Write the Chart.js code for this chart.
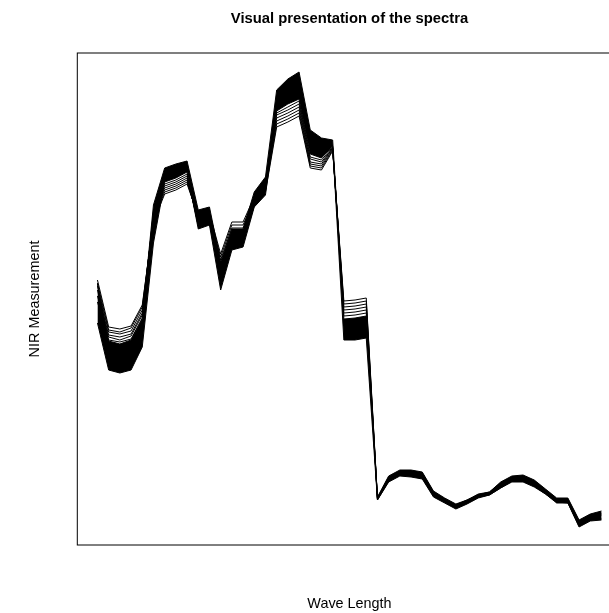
<!DOCTYPE html>
<html>
<head>
<meta charset="utf-8">
<title>Visual presentation of the spectra</title>
<script src="https://cdn.jsdelivr.net/npm/chart.js@4.4.1/dist/chart.umd.min.js"></script>
<style>
  html, body { margin: 0; padding: 0; background: #fff; overflow: hidden; }
  #wrap { width: 699px; height: 613px; }
</style>
</head>
<body>
<div id="wrap"><canvas id="spectra" width="699" height="613"></canvas></div>
<script>
// Wavelength channel index (x axis)
const wavelengthIndex = [1, 2, 3, 4, 5, 6, 7, 8, 9, 10, 11, 12, 13, 14, 15, 16, 17, 18, 19, 20,
  21, 22, 23, 24, 25, 26, 27, 28, 29, 30, 31, 32, 33, 34, 35, 36, 37, 38, 39, 40,
  41, 42, 43, 44, 45, 46];

// Upper and lower edges of the densely packed bulk of the spectra
const denseUpper = [3.16, 2.59, 2.56, 2.60, 2.81, 3.95, 4.32, 4.36, 4.39, 3.90,
  3.93, 3.38, 3.71, 3.71, 4.08, 4.23, 5.10, 5.21, 5.28, 4.70,
  4.62, 4.60, 2.81, 2.82, 2.84, 1.03, 1.24, 1.30, 1.30, 1.28,
  1.09, 1.02, 0.96, 1.00, 1.06, 1.08, 1.18, 1.24, 1.25, 1.20,
  1.11, 1.02, 1.02, 0.80, 0.86, 0.89];
const denseLower = [2.77, 2.30, 2.27, 2.30, 2.53, 3.57, 4.18, 4.22, 4.28, 3.71,
  3.75, 3.10, 3.50, 3.53, 3.93, 4.05, 4.89, 4.96, 5.01, 4.46,
  4.42, 4.54, 2.60, 2.60, 2.62, 1.00, 1.18, 1.24, 1.23, 1.21,
  1.03, 0.97, 0.91, 0.96, 1.02, 1.05, 1.12, 1.18, 1.18, 1.13,
  1.06, 0.97, 0.97, 0.73, 0.79, 0.80];

// Individual spectra that stand apart from the bulk
const spectrumA = [3.20, 2.73, 2.71, 2.74, 2.95, 3.78, 4.06, 4.10, 4.16, 3.84,
  3.87, 3.46, 3.78, 3.78, 4.03, 4.08, 4.73, 4.78, 4.84, 4.32,
  4.30, 4.49, 2.99, 3.00, 3.02, 1.02, 1.23, 1.29, 1.29, 1.27,
  1.08, 1.01, 0.95, 1.00, 1.05, 1.08, 1.17, 1.23, 1.24, 1.19,
  1.10, 1.01, 1.01, 0.79, 0.85, 0.87];
const spectrumB = [3.17, 2.70, 2.68, 2.72, 2.93, 3.80, 4.08, 4.12, 4.18, 3.82,
  3.85, 3.43, 3.75, 3.75, 4.01, 4.10, 4.76, 4.81, 4.87, 4.34,
  4.32, 4.50, 2.96, 2.97, 2.99, 1.02, 1.22, 1.28, 1.28, 1.26,
  1.07, 1.00, 0.95, 0.99, 1.05, 1.07, 1.16, 1.22, 1.23, 1.18,
  1.09, 1.00, 1.00, 0.78, 0.84, 0.86];
const spectrumC = [3.14, 2.68, 2.66, 2.69, 2.90, 3.82, 4.10, 4.14, 4.20, 3.80,
  3.83, 3.40, 3.72, 3.72, 3.99, 4.12, 4.79, 4.84, 4.90, 4.36,
  4.34, 4.51, 2.93, 2.94, 2.96, 1.01, 1.21, 1.27, 1.27, 1.25,
  1.06, 1.00, 0.94, 0.99, 1.04, 1.07, 1.15, 1.21, 1.22, 1.17,
  1.08, 1.00, 0.99, 0.77, 0.83, 0.85];
const spectrumD = [3.10, 2.65, 2.63, 2.66, 2.87, 3.84, 4.12, 4.16, 4.22, 3.78,
  3.81, 3.32, 3.68, 3.68, 3.97, 4.14, 4.82, 4.87, 4.93, 4.38,
  4.36, 4.52, 2.90, 2.91, 2.93, 1.01, 1.21, 1.27, 1.26, 1.24,
  1.06, 0.99, 0.93, 0.98, 1.04, 1.06, 1.14, 1.21, 1.21, 1.16,
  1.08, 0.99, 0.99, 0.76, 0.82, 0.84];
const spectrumE = [3.04, 2.63, 2.60, 2.64, 2.85, 3.86, 4.14, 4.18, 4.24, 3.76,
  3.79, 3.28, 3.64, 3.64, 3.95, 4.16, 4.85, 4.90, 4.96, 4.41,
  4.38, 4.52, 2.87, 2.88, 2.90, 1.01, 1.20, 1.26, 1.25, 1.23,
  1.05, 0.98, 0.93, 0.97, 1.03, 1.06, 1.13, 1.20, 1.20, 1.15,
  1.07, 0.98, 0.98, 0.75, 0.81, 0.82];
const spectrumF = [2.98, 2.60, 2.58, 2.61, 2.82, 3.88, 4.16, 4.20, 4.26, 3.74,
  3.77, 3.24, 3.60, 3.60, 3.94, 4.18, 4.87, 4.93, 4.99, 4.43,
  4.40, 4.53, 2.84, 2.85, 2.87, 1.00, 1.19, 1.25, 1.24, 1.22,
  1.04, 0.98, 0.92, 0.97, 1.03, 1.05, 1.12, 1.19, 1.19, 1.14,
  1.06, 0.98, 0.97, 0.74, 0.80, 0.81];

const FONT = 'Liberation Sans, Arial, Helvetica, sans-serif';

function lineSet(values, extra) {
  return Object.assign({
    data: values,
    borderColor: '#000',
    borderWidth: 1,
    pointRadius: 0,
    tension: 0,
    fill: false
  }, extra || {});
}

// Plain frame around the plotting region
const frame = {
  id: 'frame',
  afterDraw(chart) {
    const a = chart.chartArea;
    const ctx = chart.ctx;
    ctx.save();
    ctx.strokeStyle = '#000';
    ctx.lineWidth = 1;
    ctx.strokeRect(a.left, a.top, a.right - a.left, a.bottom - a.top);
    ctx.restore();
  }
};

new Chart(document.getElementById('spectra'), {
  type: 'line',
  data: {
    labels: wavelengthIndex,
    datasets: [
      lineSet(denseUpper),
      lineSet(denseLower, { fill: '-1', backgroundColor: '#000' }),
      lineSet(spectrumA),
      lineSet(spectrumB),
      lineSet(spectrumC),
      lineSet(spectrumD),
      lineSet(spectrumE),
      lineSet(spectrumF)
    ]
  },
  plugins: [frame],
  options: {
    responsive: false,
    animation: false,
    events: [],
    layout: { padding: { left: 0, right: 77.38, top: 0, bottom: 0 } },
    plugins: {
      legend: { display: false },
      tooltip: { enabled: false },
      title: {
        display: true,
        fullSize: false,
        text: 'Visual presentation of the spectra',
        color: '#000',
        font: { family: FONT, size: 14.8, weight: 'bold', lineHeight: 1.2 },
        padding: { top: 9.7, bottom: 25.54 }
      }
    },
    scales: {
      x: {
        type: 'linear',
        min: -0.8,
        max: 47.8,
        grid: { display: false, drawTicks: false },
        border: { display: false },
        ticks: { display: false },
        title: {
          display: true,
          text: 'Wave Length',
          color: '#000',
          font: { family: FONT, size: 14.4, lineHeight: 1.2 },
          padding: { top: 50.36, bottom: 0.36 }
        }
      },
      y: {
        min: 0.55,
        max: 5.47,
        grid: { display: false, drawTicks: false },
        border: { display: false },
        ticks: { display: false },
        title: {
          display: true,
          text: 'NIR Measurement',
          color: '#000',
          font: { family: FONT, size: 14.4, lineHeight: 1.2 },
          padding: { top: 26.36, bottom: 33.66 }
        }
      }
    }
  }
});
</script>
</body>
</html>
